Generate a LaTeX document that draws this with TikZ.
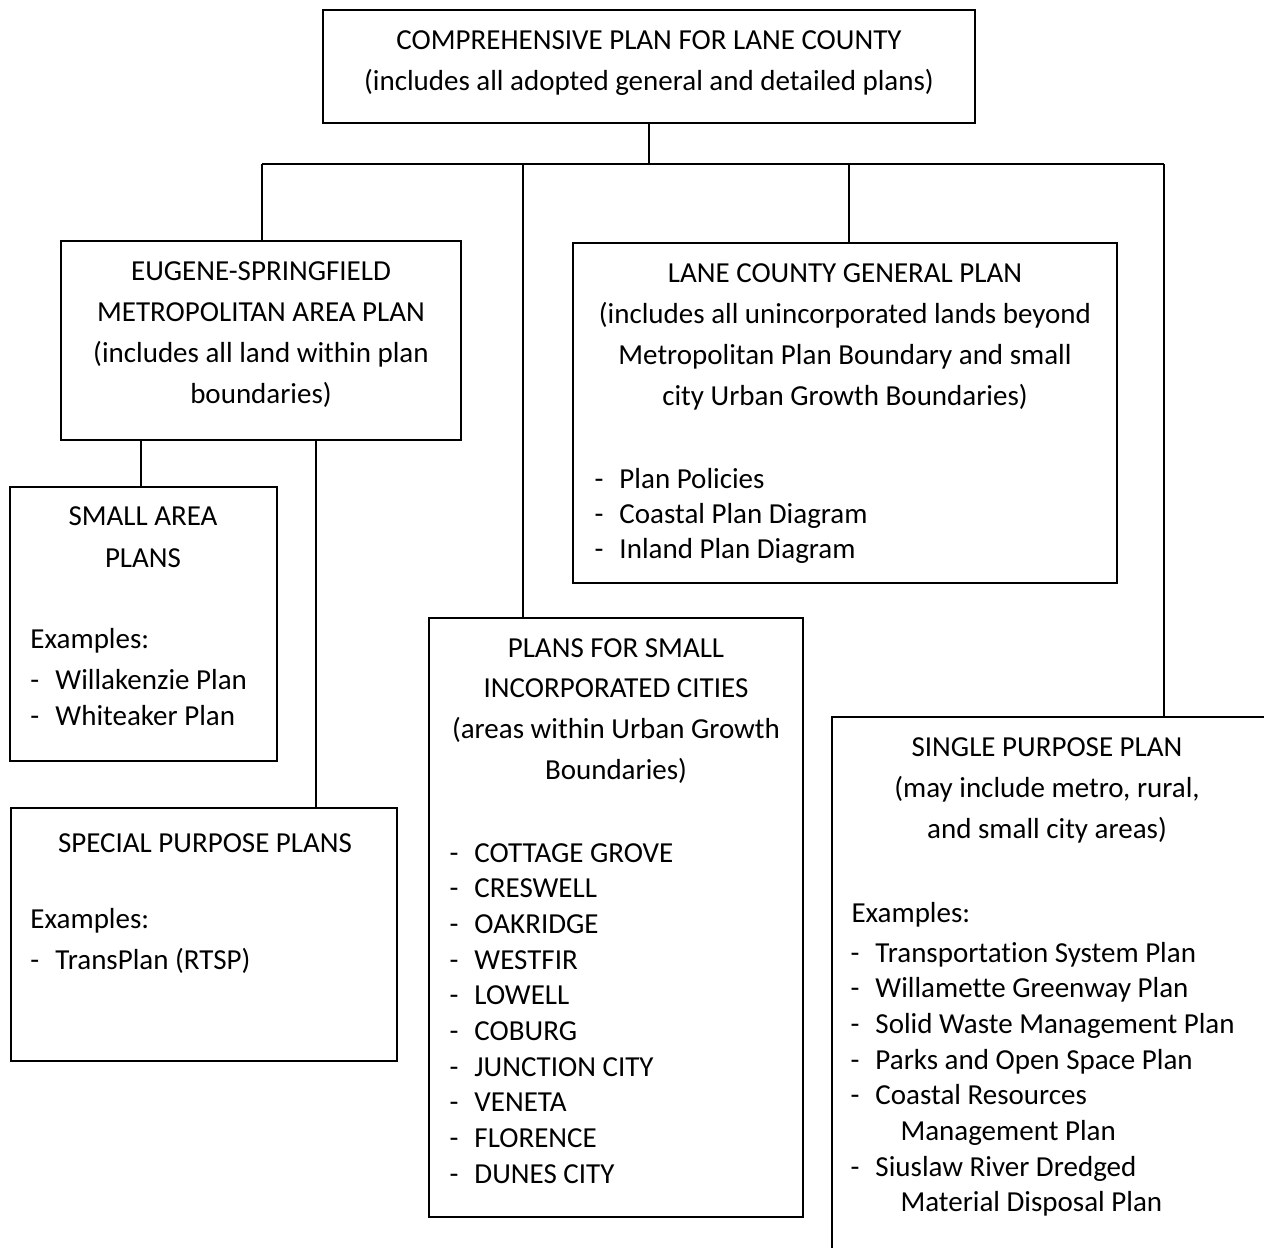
\documentclass[tikz,border=0pt]{standalone}
\usepackage{fontspec}
\setmainfont{Carlito}[Ligatures={NoCommon,NoContextual}]
\usetikzlibrary{positioning,fit}

\newcommand\dashitem[1]{\makebox[10pt][l]{-}#1}
\newcommand\contitem[1]{\hspace*{20pt}#1}

\begin{document}
\begin{tikzpicture}[
	x=0.4pt,y=-0.4pt,
	line join=miter,
	font=\fontsize{11.6}{14}\selectfont,
	planbox/.style={draw=black, line width=0.8pt, inner sep=0pt},
	link/.style={draw=black, line width=0.6pt},
	head/.style={anchor=base, inner sep=0pt},
	item/.style={anchor=base west, inner sep=0pt}
	]
	%----- page
	\useasboundingbox (0,0) rectangle (1264,1247);
	\clip (0,0) rectangle (1264,1247);
	
	%----- boxes
	\node[planbox, fit={(323,10) (975,123)}] (top) {};
	\node[planbox, fit={(61,241) (461,440)}] (eug) {};
	\node[planbox, fit={(573,243) (1117,583)}] (lane) {};
	\node[planbox, fit={(10,487) (277,761)}] (small) {};
	\node[planbox, fit={(11,808) (397,1061)}] (special) {};
	\node[planbox, fit={(429,618) (803,1217)}] (cities) {};
	\node[planbox, fit={(832,717) (1280,1265)}] (single) {};
	
	%----- connectors
	\coordinate (busL) at (262,164);
	\coordinate (busR) at (1164,164);
	\coordinate (cityDrop) at (523,164);
	\coordinate (laneDrop) at (849,164);
	\coordinate (smallDrop) at (141,440);
	\coordinate (specDrop) at (316,440);
	
	\draw[link] (busL) -- (busR);
	\draw[link] (top.south) -- (top.south |- busL);
	\draw[link] (busL) -- (busL |- eug.north);
	\draw[link] (cityDrop) -- (cityDrop |- cities.north);
	\draw[link] (laneDrop) -- (laneDrop |- lane.north);
	\draw[link] (busR) -- (busR |- single.north);
	\draw[link] (smallDrop) -- (smallDrop |- small.north);
	\draw[link] (specDrop) -- (specDrop |- special.north);
	
	%----- top box
	\node[head] (topT1) at (649,49) {COMPREHENSIVE PLAN FOR LANE COUNTY};
	\node[head] (topT2) at (649,90) {(includes all adopted general and detailed plans)};
	
	%----- metro plan
	\node[head] (eugT1) at (261,280) {EUGENE-SPRINGFIELD};
	\node[head] (eugT2) at (261,321) {METROPOLITAN AREA PLAN};
	\node[head] (eugT3) at (261,362) {(includes all land within plan};
	\node[head] (eugT4) at (261,403) {boundaries)};
	
	%----- general plan
	\node[head] (laneT1) at (845,282) {LANE COUNTY GENERAL PLAN};
	\node[head] (laneT2) at (845,323) {(includes all unincorporated lands beyond};
	\node[head] (laneT3) at (845,364) {Metropolitan Plan Boundary and small};
	\node[head] (laneT4) at (845,405) {city Urban Growth Boundaries)};
	\foreach \t [count=\i from 0] in {Plan Policies, Coastal Plan Diagram, Inland Plan Diagram}
		\node[item] (laneL\i) at (594,{488+35*\i}) {\dashitem{\t}};
	
	%----- small area plans
	\node[head] (smallT1) at (143,525) {SMALL AREA};
	\node[head] (smallT2) at (143,567) {PLANS};
	\node[item] (smallEx) at (30,648) {Examples:};
	\node[item] (smallL0) at (30,689) {\dashitem{Willakenzie Plan}};
	\node[item] (smallL1) at (30,725) {\dashitem{Whiteaker Plan}};
	
	%----- special purpose plans
	\node[head] (specT1) at (205,852) {SPECIAL PURPOSE PLANS};
	\node[item] (specEx) at (30,928) {Examples:};
	\node[item] (specL0) at (30,969) {\dashitem{TransPlan (RTSP)}};
	
	%----- small cities
	\node[head] (cityT1) at (616,657) {PLANS FOR SMALL};
	\node[head] (cityT2) at (616,697) {INCORPORATED CITIES};
	\node[head] (cityT3) at (616,738) {(areas within Urban Growth};
	\node[head] (cityT4) at (616,779) {Boundaries)};
	\foreach \c [count=\i from 0] in {COTTAGE GROVE, CRESWELL, OAKRIDGE, WESTFIR, LOWELL,
		COBURG, JUNCTION CITY, VENETA, FLORENCE, DUNES CITY}
		\node[item] (city\i) at (449,{862+35.7*\i}) {\dashitem{\c}};
	
	%----- single purpose plan
	\node[head] (singT1) at (1047,756) {SINGLE PURPOSE PLAN};
	\node[head] (singT2) at (1047,797) {(may include metro, rural,};
	\node[head] (singT3) at (1047,838) {and small city areas)};
	\node[item] (singEx) at (851,922) {Examples:};
	\foreach \t [count=\i from 0] in {\dashitem{Transportation System Plan},
		\dashitem{Willamette Greenway Plan}, \dashitem{Solid Waste Management Plan},
		\dashitem{Parks and Open Space Plan}, \dashitem{Coastal Resources},
		\contitem{Management Plan}, \dashitem{Siuslaw River Dredged},
		\contitem{Material Disposal Plan}}
		\node[item] (singL\i) at (850,{962+35.7*\i}) {\t};
	
\end{tikzpicture}
\end{document}
